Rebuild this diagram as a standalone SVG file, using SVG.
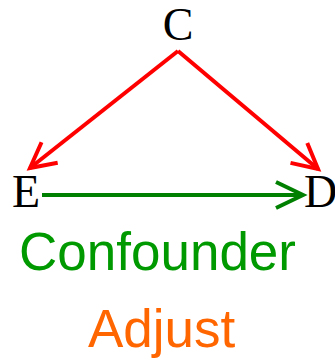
<svg xmlns="http://www.w3.org/2000/svg" width="335" height="361" viewBox="0 0 335 361">
<style>
.lbl{font-family:"Liberation Serif","Times New Roman",serif;font-size:46px;fill:#000}
.cap{font-family:"Liberation Sans",Arial,sans-serif;font-size:53px}
.red{stroke:#ff0000;stroke-width:4;fill:none}
.grn{stroke:#008000;stroke-width:4;fill:none}
</style>
<defs>
<marker id="ar" markerUnits="userSpaceOnUse" markerWidth="40" markerHeight="40" refX="0" refY="0" orient="auto" overflow="visible">
<path d="M-25,-13 L0,0 L-25,13" fill="none" stroke="#ff0000" stroke-width="4"/>
</marker>
<marker id="ag" markerUnits="userSpaceOnUse" markerWidth="40" markerHeight="40" refX="0" refY="0" orient="auto" overflow="visible">
<path d="M-27,-13 L0,0 L-27,13" fill="none" stroke="#008000" stroke-width="4"/>
</marker>
</defs>
<g id="connectors">
<path class="red" d="M178,51 L30,168" marker-end="url(#ar)"/>
<path class="red" d="M178,51 L318,169" marker-end="url(#ar)"/>
<path class="grn" d="M42,195 L303,195" marker-end="url(#ag)"/>
</g>
<g id="node-C"><text class="lbl" x="178" y="40" text-anchor="middle">C</text></g>
<g id="node-E"><text class="lbl" x="12" y="207">E</text></g>
<g id="node-D"><text class="lbl" x="304" y="207">D</text></g>
<g id="caption">
<text class="cap" x="19" y="270" fill="#009900">Confounder</text>
<text class="cap" x="88" y="347" fill="#ff6600">Adjust</text>
</g>
</svg>
